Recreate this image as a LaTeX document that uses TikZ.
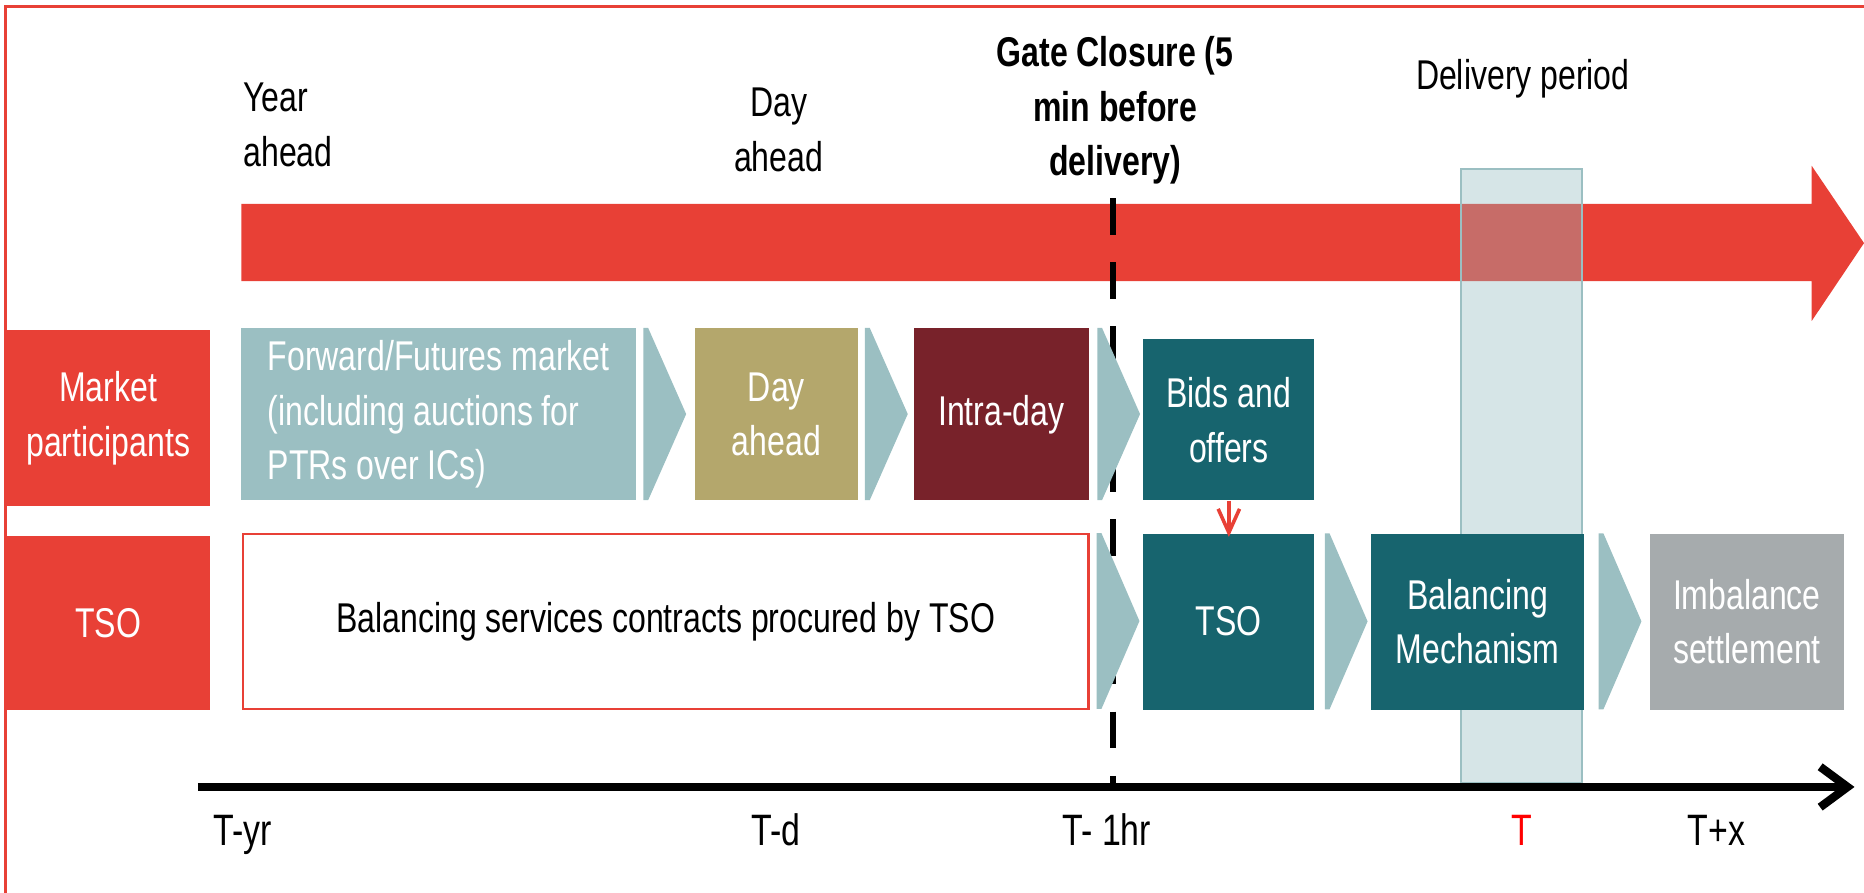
\documentclass[tikz,border=0pt]{standalone}
\usepackage{fontspec}
\setmainfont{Liberation Sans}[FakeStretch=0.77]
\usepackage{tikz}
\usetikzlibrary{arrows.meta}
\usetikzlibrary{positioning}

\definecolor{ofred}{RGB}{232,64,54}
\definecolor{paleteal}{RGB}{155,191,194}
\definecolor{khaki}{RGB}{180,167,108}
\definecolor{wine}{RGB}{120,34,42}
\definecolor{deepteal}{RGB}{23,100,110}
\definecolor{stonegray}{RGB}{166,171,173}
\definecolor{windowfill}{RGB}{145,185,190}

\tikzset{x=1pt, y=-1pt, % one unit per point, y grows downwards
every node/.style={font=\fontsize{35}{46}\selectfont, inner sep=0pt},
lanebox/.style={ % row headings on the left
fill=ofred, text=white, align=center, minimum width=172pt},
stagebox/.style={ % coloured steps along the timeline
text=white, align=center, minimum height=145pt},
chevfill/.style={fill=paleteal}, % small arrows between the steps
window/.style={ % delivery period band
fill=windowfill, fill opacity=0.37, draw=paleteal, line width=2pt},
gateline/.style={ % gate closure marker
line width=5pt, dash pattern=on 31pt off 23pt},
timeaxis/.style={ % time line at the bottom
line width=7pt, -{Straight Barb[length=23pt, width=34pt]}},
passdown/.style={ % bids handed on to the TSO
draw=ofred, line width=3pt, shorten >=-3pt, -{Straight Barb[length=20pt, width=18pt]}},
ticklabel/.style={anchor=base, font=\fontsize{37}{46}\selectfont}}

% arrow between two steps: anchor, gap, height
\newcommand{\chevron}[3]{\fill[chevfill] ([xshift=#2pt]#1) -- ++(4,0) -- ++(32,{#3/2}) -- ++(-32,{#3/2}) -- ++(-4,0) -- cycle;}

\begin{document}
\begin{tikzpicture}
\useasboundingbox (0,0) rectangle (1568,751);

% frame
\draw[ofred, line width=2.2pt] (1600,5.6) -- (4.5,5.6) -- (4.5,780);

% time arrow
\fill[ofred] (203,171.6) -- (1524,171.6) -- (1524,139.5) -- (1568,204.5) -- (1524,270) -- (1524,236.4) -- (203,236.4) -- cycle;

\draw[window] (1229,142) rectangle (1331,659);

\coordinate (gatetop) at (936,166.6);
\coordinate (gatebot) at (936,659);
\draw[gateline] (gatetop) -- (gatebot);

% headings above the arrow
\node[align=left, anchor=west] (yearlbl) at (204.6,105) {Year\\ahead};
\node[align=center] (daylbl) at (655,109) {Day\\ahead};
\node[align=center, font=\fontsize{35}{46}\selectfont\bfseries] (gatelbl) at (938,93) {Gate Closure (5\\min before\\delivery)};
\node[anchor=base] (delivlbl) at (1281,75) {Delivery period};

% lanes
\node[lanebox, minimum height=146pt] (lanetso) at (91,524) {TSO};
\node[lanebox, minimum height=148pt, above=25pt of lanetso] (lanemp) {Market\\participants};

% market participants row
\node[stagebox, fill=paleteal, minimum width=332pt, align=left] (fwd) at (369,348.5) {Forward/Futures market\\(including auctions for\\PTRs over ICs)};
\node[stagebox, fill=khaki, minimum width=136.5pt, right=49.5pt of fwd] (dayah) {Day\\ahead};
\node[stagebox, fill=wine, minimum width=147pt, right=47pt of dayah] (intra) {Intra-day};
\node[stagebox, fill=deepteal, minimum width=144pt, minimum height=135.5pt, right=45.5pt of intra.south east, anchor=south west] (bids) {Bids and\\offers};

% TSO row
\node[stagebox, fill=deepteal, minimum width=144pt, minimum height=148pt, below=27.5pt of bids] (tso) {TSO};
\node[draw=ofred, line width=2pt, fill=white, minimum width=711pt, minimum height=147pt, left=45pt of tso] (balsvc) {Balancing services contracts procured by TSO};
\node[stagebox, fill=deepteal, minimum width=179pt, minimum height=148pt, right=47.5pt of tso] (bm) {Balancing\\Mechanism};
\node[stagebox, fill=stonegray, minimum width=163pt, minimum height=148pt, right=55pt of bm] (imb) {Imbalance\\settlement};

\chevron{fwd.north east}{6}{145}
\chevron{dayah.north east}{6}{145}
\chevron{intra.north east}{7}{145}
\chevron{balsvc.north east}{6}{148}
\chevron{tso.north east}{8.5}{148}
\chevron{bm.north east}{12}{148}

\draw[passdown] (bids) -- (tso);

% time axis
\coordinate (axstart) at (166.5,662);
\coordinate (axend) at (1560,662);
\draw[timeaxis] (axstart) -- (axend);

\node[ticklabel] (tyr) at (204,711) {T-yr};
\node[ticklabel] (td) at (653,711) {T-d};
\node[ticklabel] (thr) at (931,711) {T- 1hr};
\node[ticklabel, text=red] (tnow) at (1280,711) {T};
\node[ticklabel] (tx) at (1444,711) {T+x};
\end{tikzpicture}
\end{document}
